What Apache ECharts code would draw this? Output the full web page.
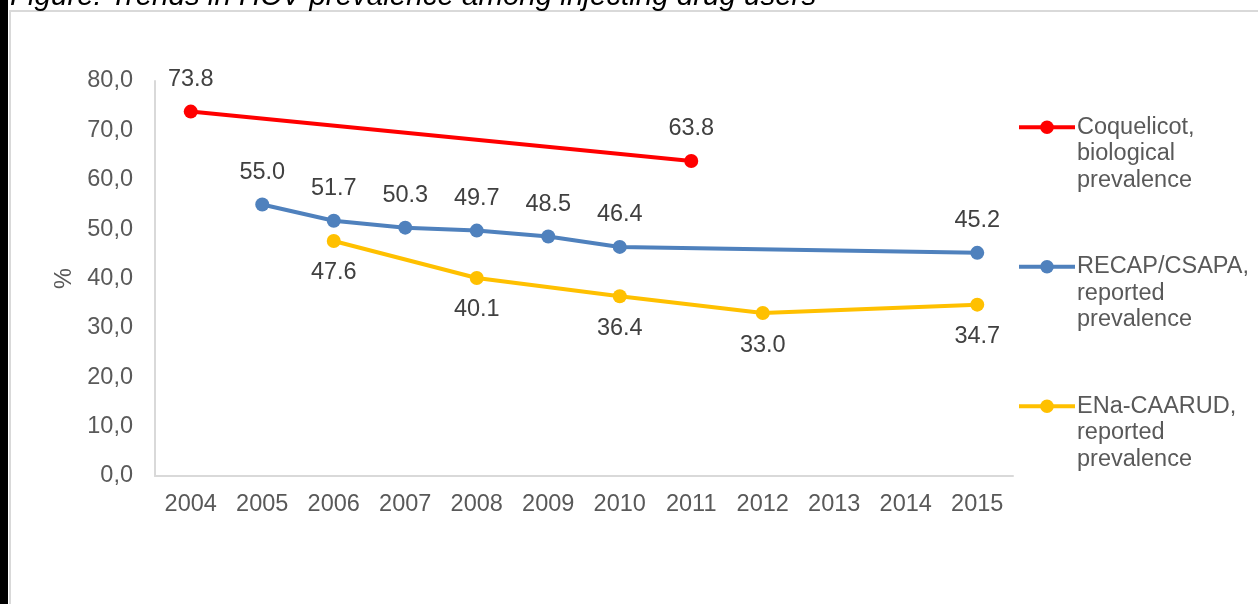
<!DOCTYPE html>
<html><head><meta charset="utf-8">
<script src="https://cdn.jsdelivr.net/npm/echarts@6/dist/echarts.min.js"></script>
<style>html,body{margin:0;padding:0;background:#fff}#c{width:1258px;height:604px}</style>
</head><body><div id="c"></div>
<script>
const years = ['2004','2005','2006','2007','2008','2009','2010','2011','2012','2013','2014','2015'];
const coquelicot = [73.8, null, null, null, null, null, null, 63.8, null, null, null, null];
const recap = [null, 55.0, 51.7, 50.3, 49.7, 48.5, 46.4, null, null, null, null, 45.2];
const ena = [null, null, 47.6, null, 40.1, null, 36.4, null, 33.0, null, null, 34.7];
const yTicks = {min: 0, max: 80, interval: 10};
const names = ['Coquelicot, biological prevalence', 'RECAP/CSAPA, reported prevalence', 'ENa-CAARUD, reported prevalence'];
const legendText = {
  'Coquelicot, biological prevalence': '\n\nCoquelicot,\nbiological\nprevalence',
  'RECAP/CSAPA, reported prevalence': '\n\nRECAP/CSAPA,\nreported\nprevalence',
  'ENa-CAARUD, reported prevalence': '\n\nENa-CAARUD,\nreported\nprevalence'
};
const titleText = 'Figure: Trends in HCV prevalence among injecting drug users';
const FONT = '"Liberation Sans", Arial, sans-serif';
const FS = 23.5;
const chart = echarts.init(document.getElementById('c'), null, {renderer: 'canvas'});
function mk(name, data, color, pos) {
  return {
    name: name, type: 'line', data: data, connectNulls: true,
    symbol: 'circle', symbolSize: 14,
    lineStyle: {color: color, width: 4},
    itemStyle: {color: color},
    label: {show: true, position: pos, distance: 13, color: '#404040', fontSize: FS, fontFamily: FONT,
      formatter: p => p.value == null ? '' : Number(p.value).toFixed(1)},
    emphasis: {disabled: true}, animation: false
  };
}
chart.setOption({
  animation: false,
  textStyle: {fontFamily: FONT},
  graphic: [
    {type: 'rect', shape: {x: 0, y: 0, width: 8, height: 604}, style: {fill: '#000'}},
    {type: 'rect', shape: {x: 10, y: 11, width: 1400, height: 800}, style: {fill: 'none', stroke: '#d9d9d9', lineWidth: 2}},
    {type: 'text', x: 10, y: -18, style: {text: titleText, font: 'italic 29.5px "Liberation Sans", Arial, sans-serif', fill: '#000', verticalAlign: 'top'}}
  ],
  grid: {left: 155, right: 245, top: 81, bottom: 128},
  legend: {
    orient: 'vertical', left: 1017, top: 61, padding: 0, itemGap: 7,
    itemWidth: 56, itemHeight: 17,
    data: names,
    formatter: n => legendText[n],
    lineStyle: {width: 4},
    textStyle: {color: '#595959', fontSize: FS, lineHeight: 26.5, fontFamily: FONT, padding: [0, 0, 0, -3]}
  },
  xAxis: {
    type: 'category', data: years, boundaryGap: true,
    axisLine: {lineStyle: {color: '#d9d9d9', width: 2}},
    axisTick: {show: false},
    axisLabel: {color: '#595959', fontSize: FS, margin: 17, fontFamily: FONT, interval: 0}
  },
  yAxis: {
    type: 'value', min: yTicks.min, max: yTicks.max, interval: yTicks.interval,
    name: '%', nameLocation: 'middle', nameGap: 76, nameRotate: 90,
    nameTextStyle: {color: '#595959', fontSize: FS, fontFamily: FONT},
    axisLine: {show: true, lineStyle: {color: '#d9d9d9', width: 2}},
    axisTick: {show: false},
    splitLine: {show: false},
    axisLabel: {color: '#595959', fontSize: FS, margin: 22, fontFamily: FONT, formatter: v => v.toFixed(1).replace('.', ',')}
  },
  series: [
    mk(names[0], coquelicot, '#FF0000', 'top'),
    mk(names[1], recap, '#4F81BD', 'top'),
    mk(names[2], ena, '#FFC000', 'bottom')
  ]
});
</script></body></html>
